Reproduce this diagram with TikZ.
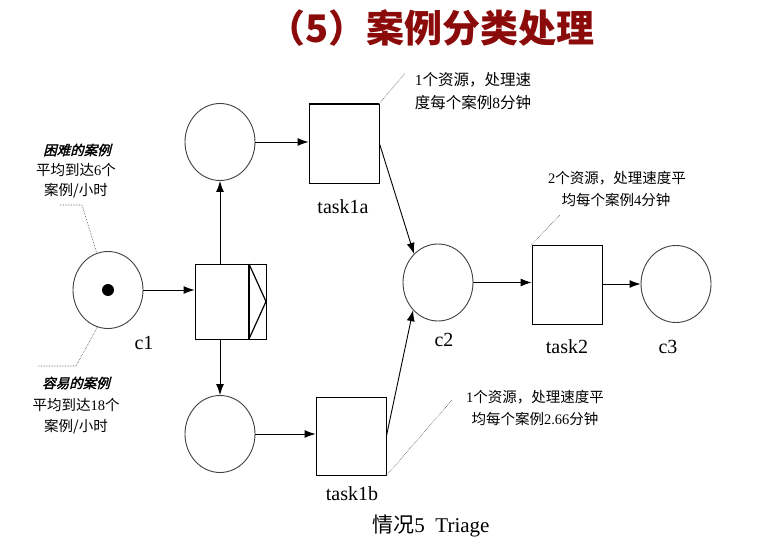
\documentclass[tikz,border=0pt]{standalone}
\usepackage{fontspec}
\setmainfont{Liberation Serif}
\newfontfamily\cjk{Noto Sans CJK SC}
\newfontfamily\cjkbi[FakeSlant=0.25,FakeBold=2]{Noto Sans CJK SC}
\usetikzlibrary{arrows.meta,shapes.geometric}
\definecolor{titlered}{RGB}{139,10,10}
\begin{document}
\begin{tikzpicture}[x=1pt,y=-1pt,
  place/.style={ellipse,draw=black!75,line width=0.9pt,minimum width=70pt,minimum height=77pt,inner sep=0pt},
  trans/.style={rectangle,draw,line width=0.9pt,minimum width=70pt,minimum height=78pt,inner sep=0pt},
  arc/.style={line width=0.9pt,-{Latex[length=11pt,width=8pt]}},
  note/.style={densely dotted,line width=0.6pt,black!70},
  lbl/.style={font=\fontsize{20}{22}\selectfont,inner sep=0pt},
  ann/.style={font=\cjk\fontsize{14.5}{16}\selectfont,inner sep=0pt},
  annh/.style={font=\cjkbi\fontsize{13.5}{15}\selectfont,inner sep=0pt},
]
\useasboundingbox (0,0) rectangle (784,545);

% title
\node[font=\cjk\bfseries\fontsize{38}{40}\selectfont,text=titlered,inner sep=0pt] (title) at (431,28) {（5）案例分类处理};

% c1 and splitting transition
\node[place] (c1) at (108,290) {};
\fill (c1.center) circle (6pt);
\node[lbl] (c1l) at (144,343) {c1};
\node[trans,minimum width=71pt,minimum height=75pt] (bx) at (230.5,301.5) {};
\draw[line width=2pt] (249,264) -- (249,339);
\draw[line width=1.2pt] (249,264) -- (266,301.5) -- (249,339);
\draw[arc] (c1.east) -- (c1.east -| bx.west);

\node[place] (p1) at (220,142) {};
\node[place] (p2) at (220,434) {};
\draw[arc] (p1.south |- bx.north) -- (p1.south);
\draw[arc] (p2.north |- bx.south) -- (p2.north);

% task1a / task1b
\node[trans,minimum height=79pt] (t1a) at (344,143.5) {};
\draw[line width=2pt] (t1a.north west) -- (t1a.north east);
\node[lbl] (t1al) at (343,207) {task1a};
\node[trans] (t1b) at (351,436) {};
\node[lbl] (t1bl) at (352,494) {task1b};
\draw[arc] (p1.east) -- (p1.east -| t1a.west);
\draw[arc] (p2.east) -- (p2.east -| t1b.west);

% c2, task2, c3
\node[place] (c2) at (438,282.5) {};
\node[lbl] (c2l) at (444,340) {c2};
\draw[arc] (t1a.east) -- (c2.130);
\draw[arc] (t1b.east) -- (c2.228);
\node[trans,minimum height=79pt] (t2) at (567,284.5) {};
\node[lbl] (t2l) at (567,347) {task2};
\draw[arc] (c2.east) -- (c2.east -| t2.west);
\node[place] (c3) at (676,284) {};
\node[lbl] (c3l) at (668,347) {c3};
\draw[arc] (t2.east |- c3.west) -- (c3.west);

% annotations left
\node[annh] (a1) at (77,150) {困难的案例};
\node[ann] (a2) at (76,170) {平均到达{\rmfamily 6}个};
\node[ann] (a3) at (76,191) {案例/小时};
\coordinate (n1a) at (60,205);
\coordinate (n1b) at (82,205);
\draw[note] (n1a) -- (n1b) -- (c1.107);

\node[annh] (b1) at (76,383) {容易的案例};
\node[ann] (b2) at (76,405) {平均到达{\rmfamily 18}个};
\node[ann] (b3) at (76,427) {案例/小时};
\coordinate (n2a) at (38,366);
\coordinate (n2b) at (76,366);
\draw[note] (n2a) -- (n2b) -- (c1.254);

% annotations right
\node[ann,font=\cjk\fontsize{15.5}{17}\selectfont] (r1) at (473,80) {{\rmfamily 1}个资源，处理速};
\node[ann,font=\cjk\fontsize{15.5}{17}\selectfont] (r2) at (473,103) {度每个案例{\rmfamily 8}分钟};
\coordinate (n3) at (405,73);
\draw[note] (t1a.north east) -- (n3);

\node[ann] (s1) at (617,178) {{\rmfamily 2}个资源，处理速度平};
\node[ann] (s2) at (616,200) {均每个案例{\rmfamily 4}分钟};
\coordinate (n4) at (560,215);
\draw[note] (t2.north west) -- (n4);

\node[ann] (u1) at (535,397) {{\rmfamily 1}个资源，处理速度平};
\node[ann] (u2) at (535,419) {均每个案例{\rmfamily 2.66}分钟};
\coordinate (n5) at (452,400);
\draw[note] (t1b.south east) -- (n5);

% caption
\node[font=\fontsize{21}{23}\selectfont,inner sep=0pt] (cap) at (431,526) {{\cjk 情况}5\ \ Triage};
\end{tikzpicture}
\end{document}
